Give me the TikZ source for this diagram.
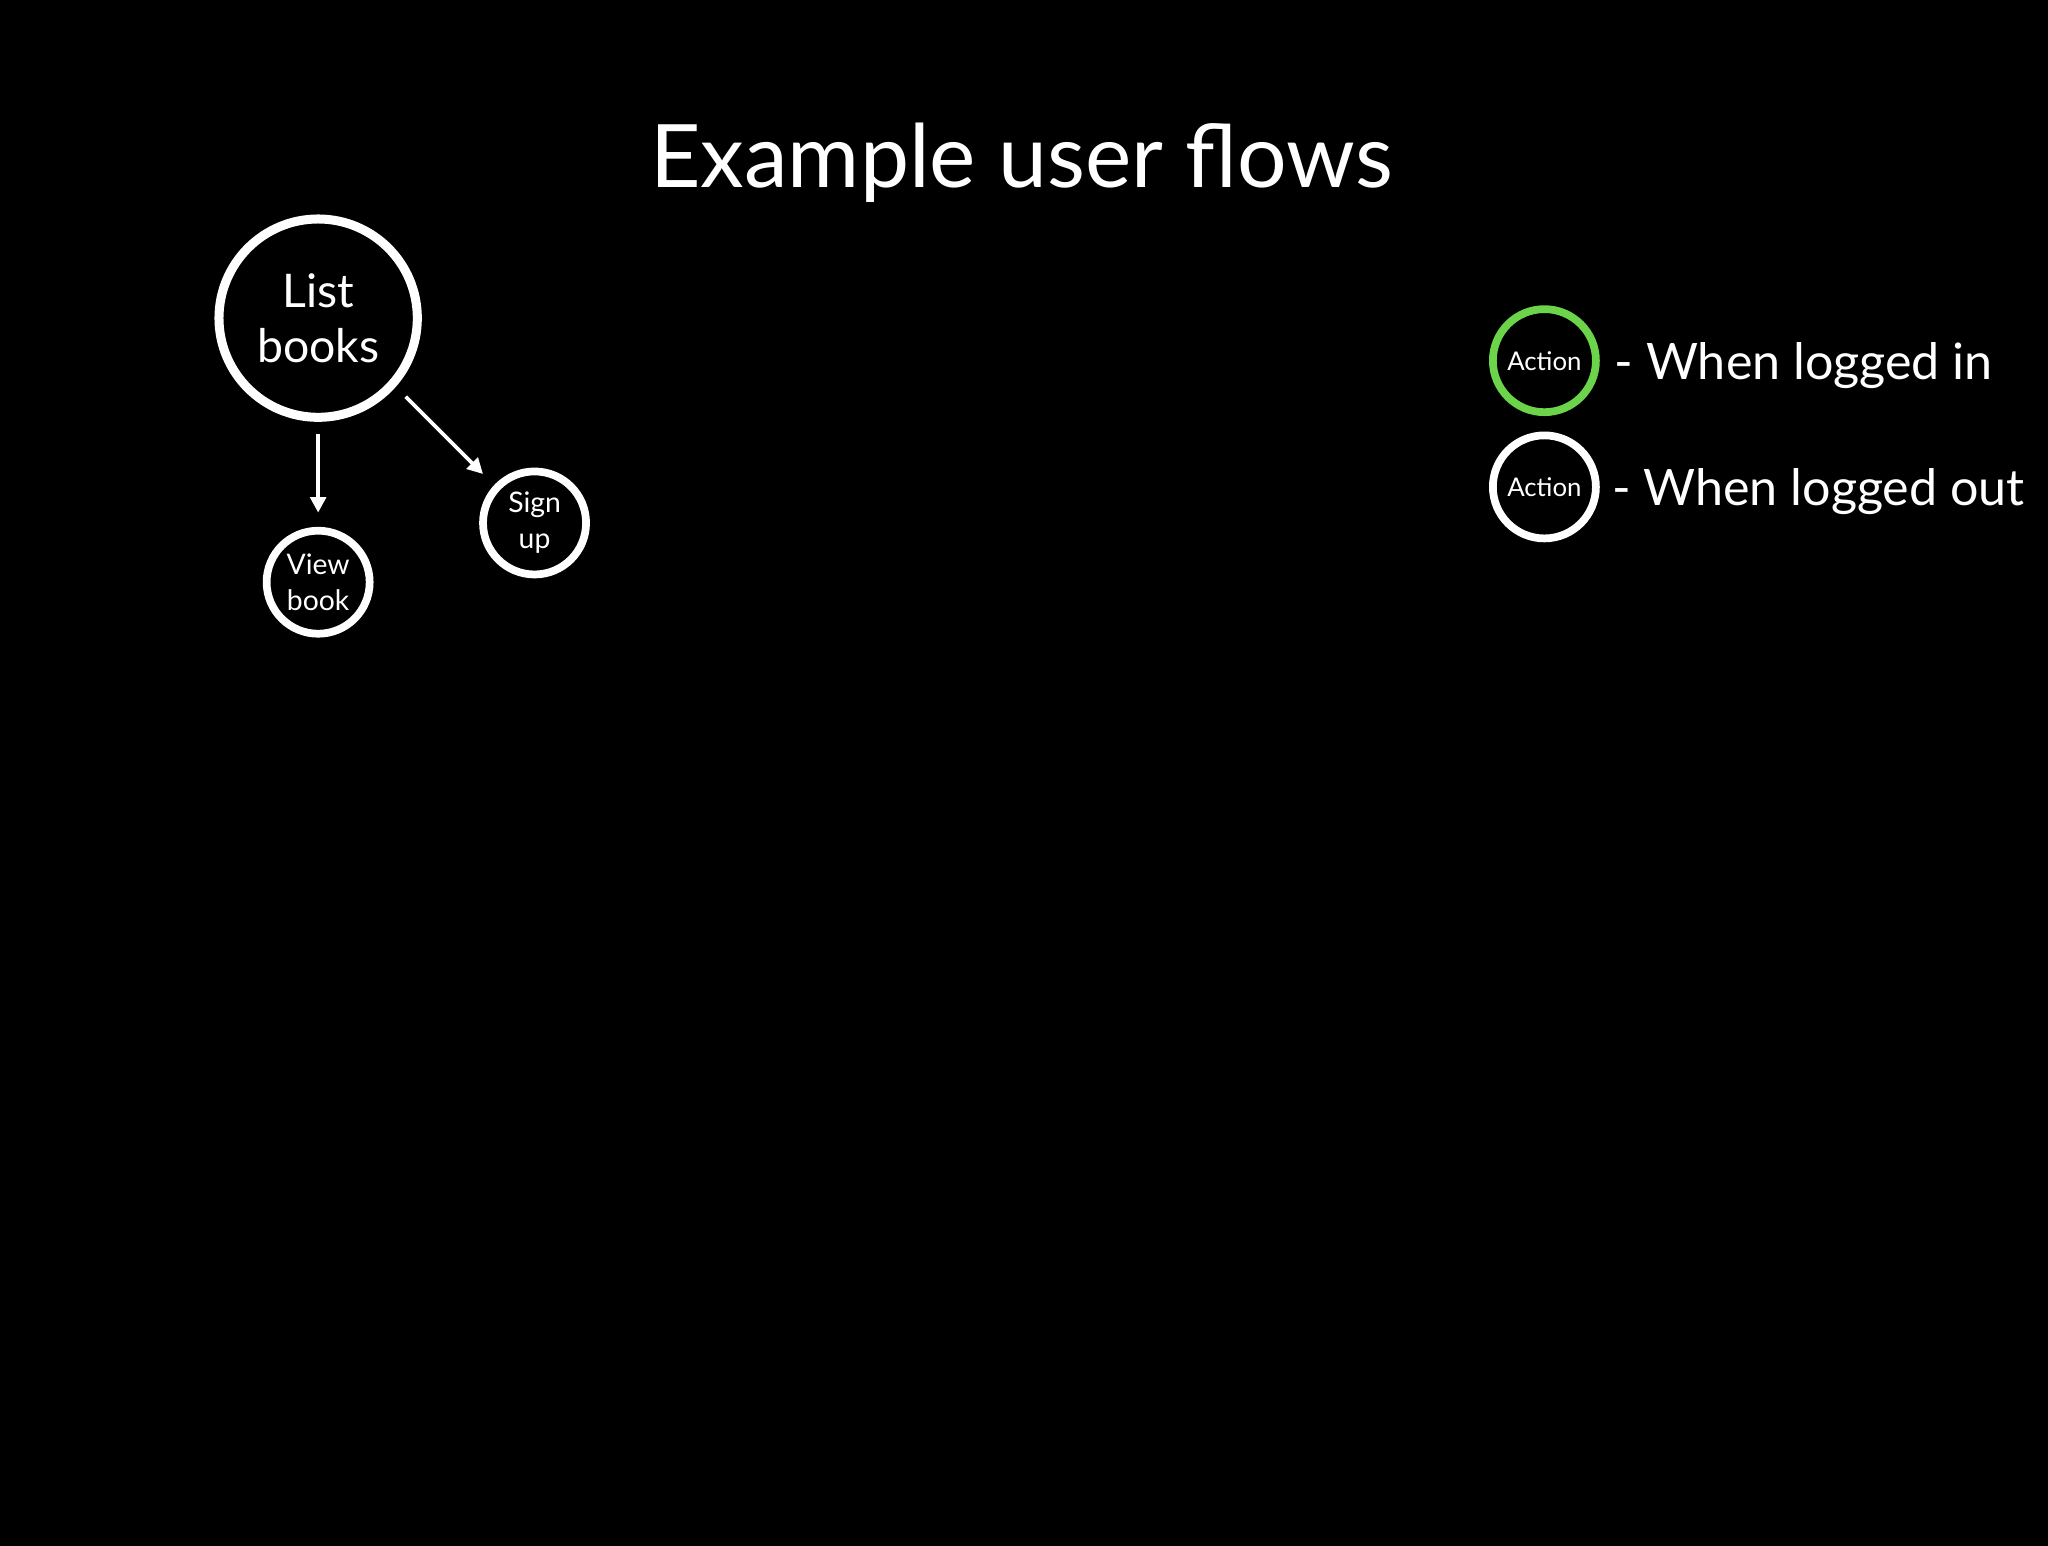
\documentclass[tikz,border=0pt]{standalone}
\usepackage{fontspec}
\setmainfont{Lato}
\usetikzlibrary{arrows.meta}
\definecolor{lgreen}{HTML}{6CD44A}
\begin{document}
\begin{tikzpicture}[x=1pt,y=-1pt,
  bigc/.style={circle,draw=white,line width=7pt,fill=black,minimum size=154pt,inner sep=0pt,text=white,align=center,font=\fontsize{36}{43}\selectfont},
  smallc/.style={circle,draw=white,line width=6pt,fill=black,minimum size=80pt,inner sep=0pt,text=white,align=center,font=\fontsize{22}{28}\selectfont},
  arr/.style={draw=white,line width=3pt,-{Triangle[length=12pt,width=12pt]}},
  lbl/.style={text=white,anchor=west,font=\fontsize{39}{46}\selectfont}]
\fill[black] (-10,-10) rectangle (1580,1190);
\useasboundingbox (0,0) rectangle (1568,1176);
\node[text=white,font=\fontsize{68}{80}\selectfont] (title) at (783,116) {Example user flows};
\node[bigc] (list) at (237,237) {List\\books};
\node[smallc] (view) at (237,442) {View\\book};
\node[smallc] (sign) at (405,396) {Sign\\up};
\coordinate (a1) at (237,327); \coordinate (a2) at (237,388);
\coordinate (b1) at (305,298); \coordinate (b2) at (365,358);
\draw[arr] (a1) -- (a2);
\draw[arr] (b1) -- (b2);
\node[smallc,draw=lgreen,font=\fontsize{20}{24}\selectfont] (lin) at (1189,270) {Action};
\node[smallc,font=\fontsize{20}{24}\selectfont] (lout) at (1189,368) {Action};
\node[lbl] (tin) at (1240,274) {- When logged in};
\node[lbl] (tout) at (1238,372) {- When logged out};
\end{tikzpicture}
\end{document}
